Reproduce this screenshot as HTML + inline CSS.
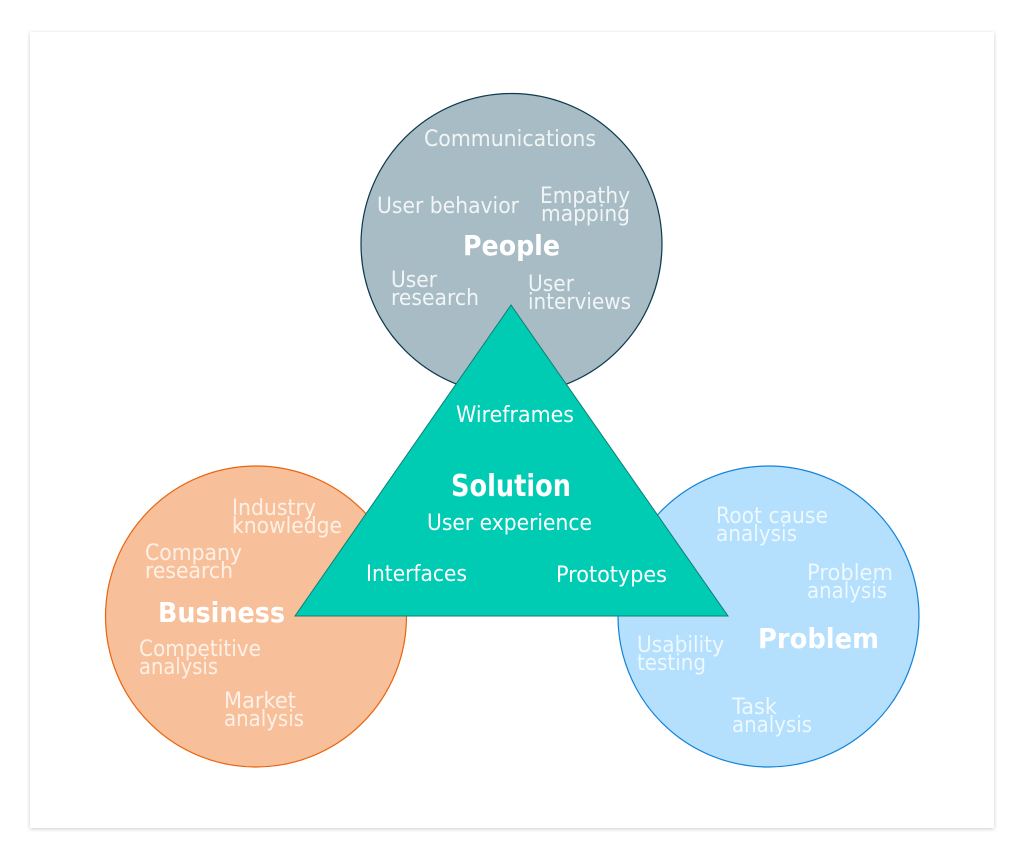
<!DOCTYPE html>
<html>
<head>
<meta charset="utf-8">
<style>
html,body{margin:0;padding:0;background:#fff;width:1024px;height:860px;overflow:hidden}
.card{position:absolute;left:30px;top:32px;width:964px;height:796px;background:#fff;box-shadow:0 1px 4px rgba(0,0,0,.2)}
svg{position:absolute;left:0;top:0}
text{font-family:"DejaVu Sans","Liberation Sans",sans-serif;font-size:22px;fill:#fff}
.l{fill:#f1f5f6}
.o{fill:#fdf0e6}
.b{fill:#edf8ff}
.h{font-weight:bold;font-size:28px;fill:#fff}
</style>
</head>
<body>
<div class="card"></div>
<svg width="1024" height="860" viewBox="0 0 1024 860">
<circle cx="511.5" cy="244" r="150.5" fill="#a7bcc4" stroke="#0d3a4d" stroke-width="1.2"/>
<circle cx="256" cy="616.5" r="150.5" fill="#f8c09a" stroke="#e8650f" stroke-width="1.2"/>
<circle cx="768.5" cy="616.5" r="150.5" fill="#b4dffd" stroke="#1283d8" stroke-width="1.2"/>
<polygon points="511,305 295,616 728,616" fill="#00ccb3" stroke="#0f7f72" stroke-width="1"/>

<text class="l" x="424" y="146" textLength="172" lengthAdjust="spacingAndGlyphs">Communications</text>
<text class="l" x="377" y="213" textLength="142" lengthAdjust="spacingAndGlyphs">User behavior</text>
<text class="l" x="540" y="203" textLength="90" lengthAdjust="spacingAndGlyphs">Empathy</text>
<text class="l" x="541" y="221" textLength="89" lengthAdjust="spacingAndGlyphs">mapping</text>
<text class="h" x="463" y="255" textLength="97" lengthAdjust="spacingAndGlyphs">People</text>
<text class="l" x="391" y="287" textLength="46" lengthAdjust="spacingAndGlyphs">User</text>
<text class="l" x="391" y="305" textLength="88" lengthAdjust="spacingAndGlyphs">research</text>
<text class="l" x="528" y="291" textLength="46" lengthAdjust="spacingAndGlyphs">User</text>
<text class="l" x="528" y="309" textLength="103" lengthAdjust="spacingAndGlyphs">interviews</text>

<text x="456" y="422" textLength="118" lengthAdjust="spacingAndGlyphs">Wireframes</text>
<text class="h" x="451" y="496" textLength="120" lengthAdjust="spacingAndGlyphs" style="font-size:30px">Solution</text>
<text x="427" y="530" textLength="165" lengthAdjust="spacingAndGlyphs">User experience</text>
<text x="366" y="581" textLength="101" lengthAdjust="spacingAndGlyphs">Interfaces</text>
<text x="556" y="582" textLength="111" lengthAdjust="spacingAndGlyphs">Prototypes</text>

<text class="o" x="232" y="515" textLength="84" lengthAdjust="spacingAndGlyphs">Industry</text>
<text class="o" x="232" y="533" textLength="110" lengthAdjust="spacingAndGlyphs">knowledge</text>
<text class="o" x="145" y="560" textLength="97" lengthAdjust="spacingAndGlyphs">Company</text>
<text class="o" x="145" y="578" textLength="88" lengthAdjust="spacingAndGlyphs">research</text>
<text class="h" x="158" y="622" textLength="127" lengthAdjust="spacingAndGlyphs">Business</text>
<text class="o" x="139" y="656" textLength="122" lengthAdjust="spacingAndGlyphs">Competitive</text>
<text class="o" x="139" y="674" textLength="79" lengthAdjust="spacingAndGlyphs">analysis</text>
<text class="o" x="224" y="708" textLength="72" lengthAdjust="spacingAndGlyphs">Market</text>
<text class="o" x="224" y="726" textLength="80" lengthAdjust="spacingAndGlyphs">analysis</text>

<text class="b" x="716" y="523" textLength="112" lengthAdjust="spacingAndGlyphs">Root cause</text>
<text class="b" x="716" y="541" textLength="81" lengthAdjust="spacingAndGlyphs">analysis</text>
<text class="b" x="807" y="580" textLength="86" lengthAdjust="spacingAndGlyphs">Problem</text>
<text class="b" x="807" y="598" textLength="80" lengthAdjust="spacingAndGlyphs">analysis</text>
<text class="h" x="758" y="648" textLength="121" lengthAdjust="spacingAndGlyphs">Problem</text>
<text class="b" x="637" y="652" textLength="87" lengthAdjust="spacingAndGlyphs">Usability</text>
<text class="b" x="637" y="670" textLength="69" lengthAdjust="spacingAndGlyphs">testing</text>
<text class="b" x="732" y="714" textLength="45" lengthAdjust="spacingAndGlyphs">Task</text>
<text class="b" x="732" y="732" textLength="80" lengthAdjust="spacingAndGlyphs">analysis</text>
</svg>
</body>
</html>
